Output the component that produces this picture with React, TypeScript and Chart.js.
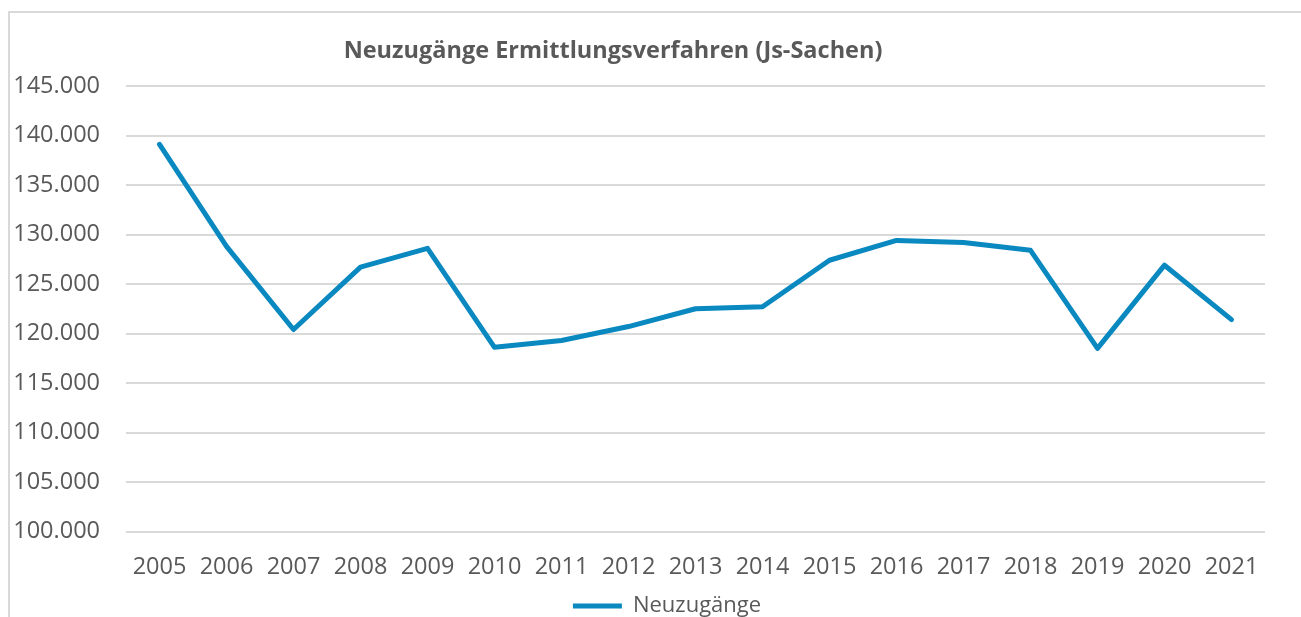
import React, { useEffect, useRef } from "react";
import { Chart, registerables } from "chart.js";

Chart.register(...registerables);

const years: string[] = [
  "2005", "2006", "2007", "2008", "2009", "2010", "2011", "2012", "2013",
  "2014", "2015", "2016", "2017", "2018", "2019", "2020", "2021",
];
const neuzugaenge: number[] = [
  139100, 128800, 120400, 126700, 128600, 118600, 119300, 120700, 122500,
  122700, 127400, 129400, 129200, 128400, 118500, 126900, 121400,
];
const seriesLabel = "Neuzugänge";
const chartTitle = "Neuzugänge Ermittlungsverfahren (Js-Sachen)";
const yMin = 100000;
const yMax = 145000;
const yStep = 5000;

const GREY = "#595959";
const BLUE = "#0a88c0";
const FONT = "'Open Sans', 'Noto Sans', sans-serif";

function formatDe(v: number): string {
  return Math.round(v).toString().replace(/\B(?=(\d{3})+(?!\d))/g, ".");
}

const titlePlugin = {
  id: "customTitle",
  afterDraw(chart: any) {
    const ctx = chart.ctx;
    ctx.save();
    ctx.font = `bold 23.5px ${FONT}`;
    ctx.fillStyle = GREY;
    ctx.textAlign = "center";
    ctx.textBaseline = "alphabetic";
    ctx.fillText(chartTitle, 603, 45);
    ctx.restore();
  },
};

// shift the legend box slightly to the right, as in the original
const legendShiftPlugin = {
  id: "legendShift",
  afterLayout(chart: any) {
    const lg = chart.legend;
    if (!lg) return;
    const dx = 27.5;
    lg.left += dx;
    lg.right += dx;
    if (lg.legendHitBoxes) {
      lg.legendHitBoxes.forEach((h: any) => {
        h.left += dx;
      });
    }
  },
};

export default function App() {
  const ref = useRef<HTMLCanvasElement | null>(null);

  useEffect(() => {
    if (!ref.current) return;
    const chart = new Chart(ref.current, {
      type: "line",
      data: {
        labels: years,
        datasets: [
          {
            label: seriesLabel,
            data: neuzugaenge,
            borderColor: BLUE,
            backgroundColor: BLUE,
            borderWidth: 5,
            pointRadius: 0,
            pointHoverRadius: 0,
            tension: 0,
            borderCapStyle: "round",
            borderJoinStyle: "round",
            fill: false,
          },
        ],
      },
      options: {
        animation: false,
        responsive: false,
        maintainAspectRatio: false,
        layout: { padding: { top: 73, left: 4, right: 59, bottom: 36 } },
        plugins: {
          title: { display: false },
          tooltip: { enabled: false },
          legend: {
            display: true,
            position: "bottom",
            labels: {
              usePointStyle: true,
              pointStyle: "line",
              pointStyleWidth: 49,
              color: GREY,
              font: { family: FONT, size: 22 },
              padding: 15.5,
            },
          },
        },
        scales: {
          x: {
            offset: true,
            grid: { display: false, drawTicks: false },
            border: { display: false },
            ticks: {
              color: GREY,
              font: { family: FONT, size: 23.5 },
              padding: 22,
              autoSkip: false,
              maxRotation: 0,
              minRotation: 0,
            },
            afterFit: (s: any) => {
              s.height = 48;
            },
          },
          y: {
            min: yMin,
            max: yMax,
            grid: { color: "#d9d9d9", lineWidth: 2, drawTicks: false },
            border: { display: false },
            ticks: {
              stepSize: yStep,
              color: GREY,
              font: { family: FONT, size: 23.5 },
              padding: 26,
              callback: (v: any) => formatDe(Number(v)),
            },
            afterFit: (s: any) => {
              s.width = 112;
            },
          },
        },
      },
      plugins: [titlePlugin, legendShiftPlugin],
    });
    return () => chart.destroy();
  }, []);

  return (
    <div
      style={{
        position: "fixed",
        left: 0,
        top: 0,
        width: "100vw",
        height: "100vh",
        overflow: "hidden",
        background: "#fff",
      }}
    >
      <div
        style={{
          position: "absolute",
          left: 8,
          top: 11,
          border: "2px solid #d9d9d9",
          width: 1314,
          height: 650,
        }}
      >
        <canvas ref={ref} width={1314} height={650} style={{ display: "block" }} />
      </div>
    </div>
  );
}
